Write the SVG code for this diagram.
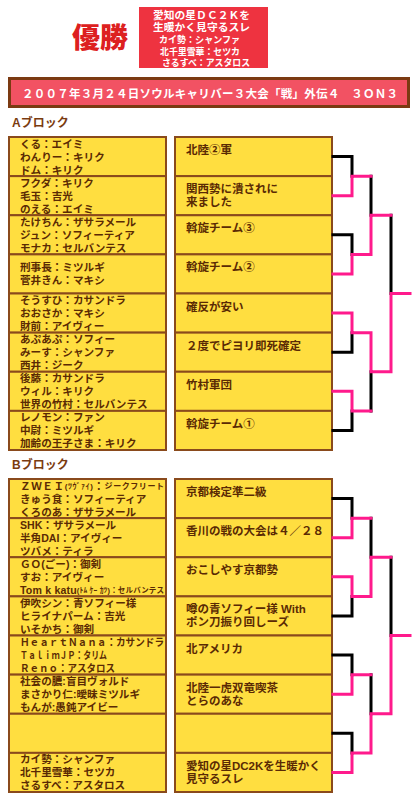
<svg xmlns="http://www.w3.org/2000/svg" width="418" height="800" viewBox="0 0 418 800">
<style>
.box{fill:#ffde40;stroke:#8a4a1c;stroke-width:2}
.t{font-family:"Liberation Sans","Noto Sans CJK JP",sans-serif;font-size:10.6px;font-weight:bold;fill:#5a2a04;dominant-baseline:central}
.r{font-size:11.5px}
.w{fill:#fff}
.h{font-size:12px;fill:#7a3b10}
.k{stroke:#000;stroke-width:3;fill:none;stroke-linecap:square}
.p{stroke:#ff1a8c;stroke-width:3;fill:none;stroke-linecap:square}
</style>
<rect width="418" height="800" fill="#fff"/>
<g id="title-win">
<text class="t" x="100" y="38" text-anchor="middle" style="font-size:28px;font-weight:900;fill:#dd2020">優勝</text>
</g>
<g id="winner-box">
<rect x="139" y="7" width="129" height="61" fill="#ee3340"/>
<text class="t w" x="153" y="15" style="font-size:10.5px" textLength="97" lengthAdjust="spacingAndGlyphs">愛知の星ＤＣ２Ｋを</text>
<text class="t w" x="153" y="27" style="font-size:10.5px" textLength="97" lengthAdjust="spacingAndGlyphs">生暖かく見守るスレ</text>
<text class="t w" x="159" y="39" style="font-size:9.5px" textLength="81" lengthAdjust="spacingAndGlyphs">カイ勢：シャンファ</text>
<text class="t w" x="160" y="51" style="font-size:9.5px" textLength="80" lengthAdjust="spacingAndGlyphs">北千里雪華：セツカ</text>
<text class="t w" x="162" y="62" style="font-size:9.5px" textLength="88" lengthAdjust="spacingAndGlyphs">さるすべ：アスタロス</text>
</g>
<g id="title-bar">
<rect x="9.5" y="78.5" width="399" height="28" fill="#f25263" stroke="#7b3a12" stroke-width="3"/>
<text class="t w" x="22" y="93.5" style="font-size:11.5px" textLength="376" lengthAdjust="spacing">２００７年３月２４日ソウルキャリバー３大会「戦」外伝４　３ＯＮ３</text>
</g>
<g id="block-a-label"><text class="t h" x="12" y="123">Aブロック</text></g>
<g id="block-b-label"><text class="t h" x="12" y="465">Bブロック</text></g>

<g id="a-left-1"><rect class="box" x="9" y="137" width="157" height="39.125"/>
<text class="t" x="20" y="143.6">くる：エイミ</text><text class="t" x="20" y="156.6">わんりー：キリク</text><text class="t" x="20" y="169.6">ドム：キリク</text></g>
<g id="a-left-2"><rect class="box" x="9" y="176.125" width="157" height="39.125"/>
<text class="t" x="20" y="182.7">フクダ：キリク</text><text class="t" x="20" y="195.7">毛玉：吉光</text><text class="t" x="20" y="208.7">のえる：エイミ</text></g>
<g id="a-left-3"><rect class="box" x="9" y="215.25" width="157" height="39.125"/>
<text class="t" x="20" y="221.8">たけちん：ザサラメール</text><text class="t" x="20" y="234.8">ジュン：ソフィーティア</text><text class="t" x="20" y="247.8">モナカ：セルバンテス</text></g>
<g id="a-left-4"><rect class="box" x="9" y="254.375" width="157" height="39.125"/>
<text class="t" x="20" y="267.4">刑事長：ミツルギ</text><text class="t" x="20" y="280.4">菅井きん：マキシ</text></g>
<g id="a-left-5"><rect class="box" x="9" y="293.5" width="157" height="39.125"/>
<text class="t" x="20" y="300.1">そうすひ：カサンドラ</text><text class="t" x="20" y="313.1">おおさか：マキシ</text><text class="t" x="20" y="326.1">財前：アイヴィー</text></g>
<g id="a-left-6"><rect class="box" x="9" y="332.625" width="157" height="39.125"/>
<text class="t" x="20" y="339.2">あぷあぷ：ソフィー</text><text class="t" x="20" y="352.2">みーす：シャンファ</text><text class="t" x="20" y="365.2">西井：ジーク</text></g>
<g id="a-left-7"><rect class="box" x="9" y="371.75" width="157" height="39.125"/>
<text class="t" x="20" y="378.3">後藤：カサンドラ</text><text class="t" x="20" y="391.3">ウィル：キリク</text><text class="t" x="20" y="404.3">世界の竹村：セルバンテス</text></g>
<g id="a-left-8"><rect class="box" x="9" y="410.875" width="157" height="39.125"/>
<text class="t" x="20" y="417.4">レノモン：ファン</text><text class="t" x="20" y="430.4">中尉：ミツルギ</text><text class="t" x="20" y="443.4">加齢の王子さま：キリク</text></g>

<g id="a-right-1"><rect class="box" x="175" y="137" width="157" height="39.125"/><text class="t r" x="186" y="150.1">北陸②軍</text></g>
<g id="a-right-2"><rect class="box" x="175" y="176.125" width="157" height="39.125"/><text class="t r" x="186" y="189.2">関西勢に潰されに</text><text class="t r" x="186" y="202.2">来ました</text></g>
<g id="a-right-3"><rect class="box" x="175" y="215.25" width="157" height="39.125"/><text class="t r" x="186" y="228.3">斡旋チーム③</text></g>
<g id="a-right-4"><rect class="box" x="175" y="254.375" width="157" height="39.125"/><text class="t r" x="186" y="267.4">斡旋チーム②</text></g>
<g id="a-right-5"><rect class="box" x="175" y="293.5" width="157" height="39.125"/><text class="t r" x="186" y="306.6">確反が安い</text></g>
<g id="a-right-6"><rect class="box" x="175" y="332.625" width="157" height="39.125"/><text class="t r" x="186" y="345.7">２度でピヨリ即死確定</text></g>
<g id="a-right-7"><rect class="box" x="175" y="371.75" width="157" height="39.125"/><text class="t r" x="186" y="384.8">竹村軍団</text></g>
<g id="a-right-8"><rect class="box" x="175" y="410.875" width="157" height="39.125"/><text class="t r" x="186" y="423.9">斡旋チーム①</text></g>

<g id="b-left-1"><rect class="box" x="9" y="479" width="157" height="39.125"/>
<text class="t" x="20" y="485.6" textLength="144" lengthAdjust="spacing"><tspan>ＺＷＥＩ</tspan><tspan style="font-size:8px">(ﾂｳﾞｧｲ)</tspan>：<tspan style="font-size:8px">ジークフリート</tspan></text>
<text class="t" x="20" y="498.6">きゅう食：ソフィーティア</text><text class="t" x="20" y="511.6">くろのあ：ザサラメール</text></g>
<g id="b-left-2"><rect class="box" x="9" y="518.125" width="157" height="39.125"/>
<text class="t" x="20" y="524.7">SHK：ザサラメール</text><text class="t" x="20" y="537.7">半角DAI：アイヴィー</text><text class="t" x="20" y="550.7">ツバメ：ティラ</text></g>
<g id="b-left-3"><rect class="box" x="9" y="557.25" width="157" height="39.125"/>
<text class="t" x="20" y="563.8">ＧＯ(ごー)：御剣</text><text class="t" x="20" y="576.8">すお：アイヴィー</text>
<text class="t" x="20" y="589.8" textLength="144" lengthAdjust="spacing">Tom k katu<tspan style="font-size:7.5px">(ﾄﾑ ｹｰ ｶﾂ)：</tspan><tspan style="font-size:7.5px">セルバンテス</tspan></text></g>
<g id="b-left-4"><rect class="box" x="9" y="596.375" width="157" height="39.125"/>
<text class="t" x="20" y="602.9">伊吹シン：青ソフィー様</text><text class="t" x="20" y="615.9">ヒライナパーム：吉光</text><text class="t" x="20" y="628.9">いそかち：御剣</text></g>
<g id="b-left-5"><rect class="box" x="9" y="635.5" width="157" height="39.125"/>
<text class="t" x="20" y="642.1" textLength="144" lengthAdjust="spacingAndGlyphs">ＨｅａｒｔＮａｎａ：カサンドラ</text>
<text class="t" x="20" y="655.1" textLength="87" lengthAdjust="spacingAndGlyphs">ＴａｌｉｍＪＰ：タリム</text>
<text class="t" x="20" y="668.1" textLength="95" lengthAdjust="spacingAndGlyphs">Ｒｅｎｏ：アスタロス</text></g>
<g id="b-left-6"><rect class="box" x="9" y="674.625" width="157" height="39.125"/>
<text class="t" x="20" y="681.2">社会の膿:盲目ヴォルド</text><text class="t" x="20" y="694.2">まさかり仁:曖昧ミツルギ</text><text class="t" x="20" y="707.2">もんが:愚鈍アイビー</text></g>
<g id="b-left-7"><rect class="box" x="9" y="713.75" width="157" height="39.125"/></g>
<g id="b-left-8"><rect class="box" x="9" y="752.875" width="157" height="39.125"/>
<text class="t" x="20" y="759.4">カイ勢：シャンファ</text><text class="t" x="20" y="772.4">北千里雪華：セツカ</text><text class="t" x="20" y="785.4">さるすべ：アスタロス</text></g>

<g id="b-right-1"><rect class="box" x="175" y="479" width="157" height="39.125"/><text class="t r" x="186" y="492.1">京都検定準二級</text></g>
<g id="b-right-2"><rect class="box" x="175" y="518.125" width="157" height="39.125"/><text class="t r" x="186" y="531.2">香川の戦の大会は４／２８</text></g>
<g id="b-right-3"><rect class="box" x="175" y="557.25" width="157" height="39.125"/><text class="t r" x="186" y="570.3">おこしやす京都勢</text></g>
<g id="b-right-4"><rect class="box" x="175" y="596.375" width="157" height="39.125"/><text class="t r" x="186" y="609.4">噂の青ソフィー様 With</text><text class="t r" x="186" y="622.4">ポン刀振り回しーズ</text></g>
<g id="b-right-5"><rect class="box" x="175" y="635.5" width="157" height="39.125"/><text class="t r" x="186" y="648.6">北アメリカ</text></g>
<g id="b-right-6"><rect class="box" x="175" y="674.625" width="157" height="39.125"/><text class="t r" x="186" y="687.7">北陸一虎双竜喫茶</text><text class="t r" x="186" y="700.7">とらのあな</text></g>
<g id="b-right-7"><rect class="box" x="175" y="713.75" width="157" height="39.125"/></g>
<g id="b-right-8"><rect class="box" x="175" y="752.875" width="157" height="39.125"/><text class="t r" x="186" y="765.9">愛知の星DC2Kを生暖かく</text><text class="t r" x="186" y="778.9">見守るスレ</text></g>

<g id="connectors">
<path class="k" d="M333 156.56H352V176.125M333 234.81H352V254.375M371 176.125V215.25M333 352.19H352V332.625M333 430.44H352V410.875M371 410.875V371.75M391 215.25V293.5"/>
<path class="p" d="M333 195.69H352V176.125H371M333 273.94H352V254.375H371M371 254.375V215.25H391M333 313.06H352V332.625H371M333 391.31H352V410.875H371M371 332.625V371.75H391M391 371.75V293.5H410"/>
<path class="k" d="M333 498.56H352V518.125M333 615.94H352V596.375M371 518.125V557.25M333 655.06H352V674.625M333 733.31H352V752.875M371 674.625V713.75M391 557.25V635.5"/>
<path class="p" d="M333 537.69H352V518.125H371M333 576.81H352V596.375H371M371 596.375V557.25H391M333 694.19H352V674.625H371M333 772.44H352V752.875H371M371 752.875V713.75H391M391 713.75V635.5H410"/>
</g>
</svg>
